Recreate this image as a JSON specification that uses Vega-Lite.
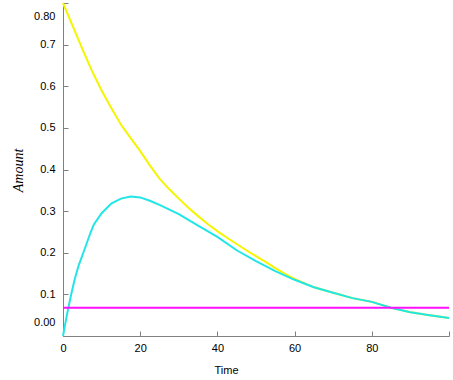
{
  "$schema": "https://vega.github.io/schema/vega-lite/v6.json",
  "autosize": {"type": "none"},
  "padding": {"left": 63, "top": 3, "right": 4, "bottom": 44},
  "width": 386,
  "height": 333,
  "background": "white",
  "config": {"view": {"stroke": null}},
  "data": {"values": [
    {"t": 0, "v": 0.800, "s": "A"},
    {"t": 2.5, "v": 0.745, "s": "A"},
    {"t": 5, "v": 0.690, "s": "A"},
    {"t": 7.5, "v": 0.637, "s": "A"},
    {"t": 10, "v": 0.590, "s": "A"},
    {"t": 12.5, "v": 0.548, "s": "A"},
    {"t": 15, "v": 0.508, "s": "A"},
    {"t": 17.5, "v": 0.476, "s": "A"},
    {"t": 20, "v": 0.444, "s": "A"},
    {"t": 22.5, "v": 0.410, "s": "A"},
    {"t": 25, "v": 0.378, "s": "A"},
    {"t": 27.5, "v": 0.353, "s": "A"},
    {"t": 30, "v": 0.330, "s": "A"},
    {"t": 32.5, "v": 0.308, "s": "A"},
    {"t": 35, "v": 0.288, "s": "A"},
    {"t": 37.5, "v": 0.269, "s": "A"},
    {"t": 40, "v": 0.252, "s": "A"},
    {"t": 42.5, "v": 0.236, "s": "A"},
    {"t": 45, "v": 0.221, "s": "A"},
    {"t": 47.5, "v": 0.206, "s": "A"},
    {"t": 50, "v": 0.192, "s": "A"},
    {"t": 52.5, "v": 0.178, "s": "A"},
    {"t": 55, "v": 0.163, "s": "A"},
    {"t": 57.5, "v": 0.149, "s": "A"},
    {"t": 60, "v": 0.137, "s": "A"},
    {"t": 65, "v": 0.117, "s": "A"},
    {"t": 70, "v": 0.104, "s": "A"},
    {"t": 75, "v": 0.091, "s": "A"},
    {"t": 80, "v": 0.082, "s": "A"},
    {"t": 85, "v": 0.068, "s": "A"},
    {"t": 90, "v": 0.057, "s": "A"},
    {"t": 95, "v": 0.050, "s": "A"},
    {"t": 100, "v": 0.043, "s": "A"},
    {"t": 0, "v": 0.000, "s": "B"},
    {"t": 1, "v": 0.050, "s": "B"},
    {"t": 2, "v": 0.095, "s": "B"},
    {"t": 3, "v": 0.135, "s": "B"},
    {"t": 4, "v": 0.168, "s": "B"},
    {"t": 5.5, "v": 0.206, "s": "B"},
    {"t": 7, "v": 0.245, "s": "B"},
    {"t": 8, "v": 0.268, "s": "B"},
    {"t": 10, "v": 0.295, "s": "B"},
    {"t": 12.5, "v": 0.318, "s": "B"},
    {"t": 15, "v": 0.330, "s": "B"},
    {"t": 17.5, "v": 0.335, "s": "B"},
    {"t": 20, "v": 0.333, "s": "B"},
    {"t": 22.5, "v": 0.325, "s": "B"},
    {"t": 25, "v": 0.315, "s": "B"},
    {"t": 30, "v": 0.293, "s": "B"},
    {"t": 35, "v": 0.265, "s": "B"},
    {"t": 40, "v": 0.238, "s": "B"},
    {"t": 45, "v": 0.206, "s": "B"},
    {"t": 50, "v": 0.180, "s": "B"},
    {"t": 55, "v": 0.156, "s": "B"},
    {"t": 60, "v": 0.135, "s": "B"},
    {"t": 65, "v": 0.117, "s": "B"},
    {"t": 70, "v": 0.104, "s": "B"},
    {"t": 75, "v": 0.091, "s": "B"},
    {"t": 80, "v": 0.082, "s": "B"},
    {"t": 85, "v": 0.068, "s": "B"},
    {"t": 90, "v": 0.057, "s": "B"},
    {"t": 95, "v": 0.050, "s": "B"},
    {"t": 100, "v": 0.043, "s": "B"},
    {"t": 0, "v": 0.068, "s": "C"},
    {"t": 100, "v": 0.068, "s": "C"}
  ]},
  "mark": {"type": "line", "strokeWidth": 2, "interpolate": "linear"},
  "encoding": {
    "x": {
      "field": "t", "type": "quantitative",
      "scale": {"domain": [0, 100], "nice": false, "zero": false},
      "axis": {
        "title": "Time",
        "values": [0, 20, 40, 60, 80, 100],
        "labelExpr": "datum.value >= 100 ? '' : datum.label",
        "grid": false,
        "domainColor": "#808080", "tickColor": "#808080",
        "tickSize": -5, "labelPadding": 11,
        "labelFont": "Liberation Sans", "labelFontSize": 11, "labelColor": "#000000",
        "labelFlush": false,
        "titleFont": "Liberation Sans", "titleFontSize": 11, "titleFontWeight": "normal", "titleColor": "#000000",
        "titleX": 163, "titleY": 34, "titleBaseline": "middle", "titleAlign": "center"
      }
    },
    "y": {
      "field": "v", "type": "quantitative",
      "scale": {"domain": [0, 0.8], "nice": false},
      "axis": {
        "title": "Amount",
        "values": [0, 0.1, 0.2, 0.3, 0.4, 0.5, 0.6, 0.7, 0.8],
        "format": ".1f",
        "labelExpr": "datum.value > 0.79 ? '0.80' : datum.value < 0.01 ? '0.00' : datum.label",
        "labelOffset": {"condition": [{"test": "datum.value > 0.79", "value": 13}, {"test": "datum.value < 0.01", "value": -14}], "value": 0},
        "grid": false,
        "domainColor": "#808080", "tickColor": "#808080",
        "tickSize": -5, "labelPadding": 13,
        "labelFont": "Liberation Sans", "labelFontSize": 11, "labelColor": "#000000",
        "labelFlush": false,
        "titleFont": "Liberation Serif", "titleFontSize": 14, "titleFontStyle": "italic", "titleFontWeight": "normal", "titleColor": "#000000",
        "titleX": -45, "titleY": 167, "titleBaseline": "middle", "titleAlign": "center", "titleAngle": -90
      }
    },
    "color": {
      "field": "s", "type": "nominal",
      "scale": {"domain": ["A", "B", "C"], "range": ["#f5f500", "#22e6e6", "#ff10ff"]},
      "legend": null
    }
  }
}
